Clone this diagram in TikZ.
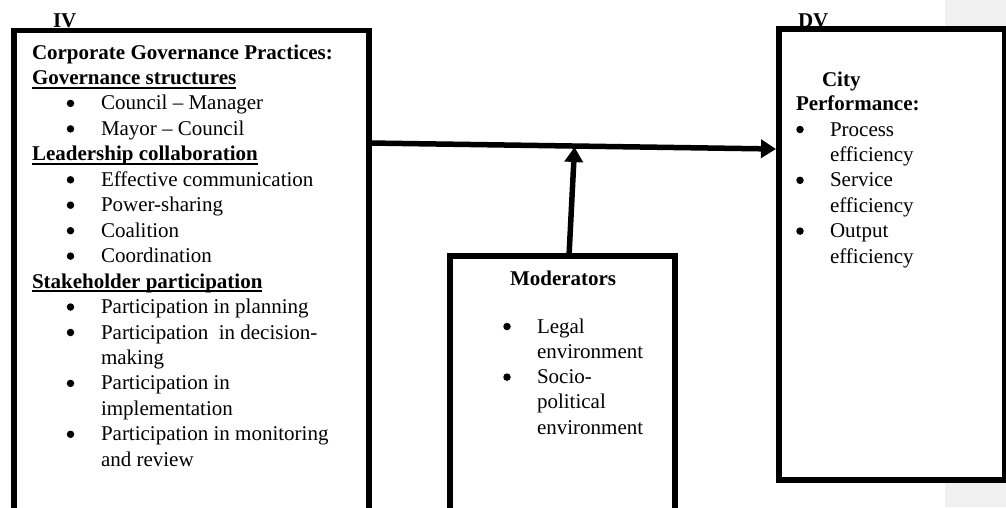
\documentclass[tikz,border=0pt]{standalone}
\usepackage{fontspec}
\setmainfont{Liberation Serif}
\usetikzlibrary{arrows.meta}
\definecolor{margingrey}{HTML}{F0F0F0}
\newcommand\myul[1]{\setbox0=\hbox{#1}\rlap{\rule[-4pt]{\wd0}{1.8pt}}\box0}
\newcommand\bitem[5]{\node[bul] (#4b) at (#1,#3-6.5) {}; \node[txt] (#4) at (#2,#3) {#5};}
\tikzset{
  txt/.style={anchor=base west, inner sep=0pt, outer sep=0pt, font=\fontsize{21}{25}\selectfont},
  hd/.style={txt, font=\fontsize{21}{25}\selectfont\bfseries},
  bul/.style={circle, fill=black, inner sep=0pt, minimum size=7.5pt},
  box/.style={draw=black, fill=white, line width=5.5pt, rectangle, anchor=north west, inner sep=0pt, outer sep=0pt},
  arr/.style={line width=5.5pt, -{Triangle[length=15pt,width=18pt]}}
}
\begin{document}
\begin{tikzpicture}[x=1pt,y=-1pt]
\useasboundingbox (0,0) rectangle (1006,507);
\clip (0,0) rectangle (1006,507);
\fill[margingrey] (945,0) rectangle (1006,507);
% labels above boxes
\node[hd] (ivlab) at (53,27) {IV};
\node[hd] (dvlab) at (798,27) {DV};
% boxes
\node[box, minimum width=355pt, minimum height=500pt] (iv) at (14,30.5) {};
\node[box, minimum width=225pt, minimum height=270pt] (mod) at (450,256) {};
\node[box, minimum width=226pt, minimum height=451pt] (dv) at (779,29) {};
% IV text
\node[hd] (t0) at (32,59) {Corporate Governance Practices:};
\node[hd] (t1) at (32,84.5) {\myul{Governance structures}};
\bitem{70.5}{101}{109.9}{t2}{Council – Manager}
\bitem{70.5}{101}{135.4}{t3}{Mayor – Council}
\node[hd] (t4) at (32,160.8) {\myul{Leadership collaboration}};
\bitem{70.5}{101}{186.3}{t5}{Effective communication}
\bitem{70.5}{101}{211.7}{t6}{Power-sharing}
\bitem{70.5}{101}{237.2}{t7}{Coalition}
\bitem{70.5}{101}{262.6}{t8}{Coordination}
\node[hd] (t9) at (32,288.1) {\myul{Stakeholder participation}};
\bitem{70.5}{101}{313.5}{t10}{Participation in planning}
\bitem{70.5}{101}{339.0}{t11}{Participation\ \ in decision-}
\node[txt] (t12) at (101,364.4) {making};
\bitem{70.5}{101}{389.9}{t13}{Participation in}
\node[txt] (t14) at (101,415.3) {implementation};
\bitem{70.5}{101}{440.8}{t15}{Participation in monitoring}
\node[txt] (t16) at (101,466.2) {and review};
% Moderators text
\node[hd] (m0) at (510,285) {Moderators};
\bitem{507}{537}{333}{m1}{Legal}
\node[txt] (m2) at (537,358.3) {environment};
\bitem{507}{537}{383.6}{m3}{Socio-}
\node[txt] (m4) at (537,408.9) {political};
\node[txt] (m5) at (537,434.2) {environment};
% DV text
\node[hd] (d0) at (822,86) {City};
\node[hd] (d1) at (796,110.5) {Performance:};
\bitem{800}{830}{136}{d2}{Process}
\node[txt] (d3) at (830,161.4) {efficiency};
\bitem{800}{830}{186.8}{d4}{Service}
\node[txt] (d5) at (830,212.2) {efficiency};
\bitem{800}{830}{237.6}{d6}{Output}
\node[txt] (d7) at (830,263) {efficiency};
% connectors
\draw[arr] ([yshift=-112.5pt]iv.north east) -- coordinate[pos=0.505] (j) ([xshift=-3pt,yshift=-120pt]dv.north west);
\draw[arr] ([xshift=6.5pt]mod.north) -- ([yshift=-1pt]j);
\end{tikzpicture}
\end{document}
